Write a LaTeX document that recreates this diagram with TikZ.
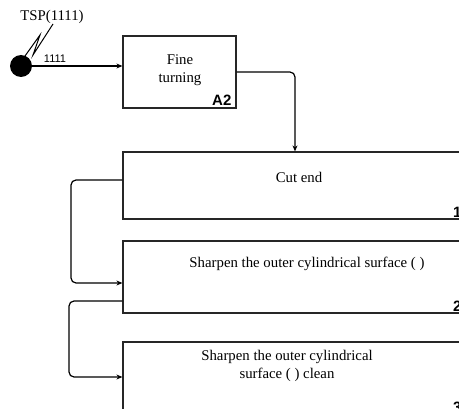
\documentclass[tikz,border=0pt]{standalone}
\usepackage{fontspec}
\setmainfont{Liberation Serif}
\setsansfont{Liberation Sans}
\usetikzlibrary{arrows.meta,calc}
\begin{document}
\begin{tikzpicture}[x=1pt,y=-1pt,
  box/.style={draw=black!85,line width=1.2pt,rectangle,inner sep=0pt},
  conn/.style={line width=1.2pt,rounded corners=5pt},
  arr/.style={-{Stealth[length=6pt,width=5pt]}},
  txt/.style={font=\fontsize{14.8}{17.5}\selectfont,align=center,inner sep=0pt},
  num/.style={font=\sffamily\bfseries\fontsize{15}{16}\selectfont,inner sep=0pt}]
\useasboundingbox (0,0) rectangle (459,409);
\clip (0,0) rectangle (459,409);
% source
\node[circle,fill=black,minimum size=22pt,inner sep=0pt] (src) at (21,66) {};
\node[font=\fontsize{14.8}{17}\selectfont,inner sep=0pt] (tsp) at (52,17) {TSP(1111)};
\coordinate (z0) at (25,56);
\coordinate (z1) at (40,35);
\coordinate (z2) at (33,55);
\coordinate (z3) at (53,24);
\draw[line width=1pt] (z0) -- (z1) -- (z2) -- (z3);
\node[font=\sffamily\fontsize{11}{12}\selectfont,inner sep=0pt] (l1111) at (55,59) {1111};
% A2
\node[box,minimum width=113pt,minimum height=72pt] (a2) at (179.5,72) {};
\node[txt] (a2t) at (180,70) {Fine\\turning};
\node[num,anchor=south east] (a2n) at ($(a2.south east)+(-5,-3)$) {A2};
% Boxes
\node[box,minimum width=350pt,minimum height=67pt] (b1) at (298,185.5) {};
\node[txt] (b1t) at (299,177) {Cut end};
\node[num,anchor=south east] (b1n) at ($(b1.south east)+(-12,-2)$) {1};
\node[box,minimum width=350pt,minimum height=72pt] (b2) at (298,277) {};
\node[txt] (b2t) at (307,264) {Sharpen the outer cylindrical surface ( )};
\node[num,anchor=south east] (b2n) at ($(b2.south east)+(-12,-2)$) {2};
\node[box,minimum width=350pt,minimum height=72pt] (b3) at (298,378) {};
\node[txt] (b3t) at (287,366) {Sharpen the outer cylindrical\\surface ( ) clean};
\node[num,anchor=south east] (b3n) at ($(b3.south east)+(-12,-2)$) {3};
% connectors
\draw[conn,arr] (src.east) -- (a2.west |- src.east);
\coordinate (r1) at (295,72);
\draw[conn,arr] (a2.east |- r1) -- (r1) -- (r1 |- b1.north);
\coordinate (o1) at (71,180);
\coordinate (i2) at (71,283);
\draw[conn,arr] (b1.west |- o1) -- (o1) -- (i2) -- (b2.west |- i2);
\coordinate (o2) at (69,301);
\coordinate (i3) at (69,377);
\draw[conn,arr] (b2.west |- o2) -- (o2) -- (i3) -- (b3.west |- i3);
\end{tikzpicture}
\end{document}
